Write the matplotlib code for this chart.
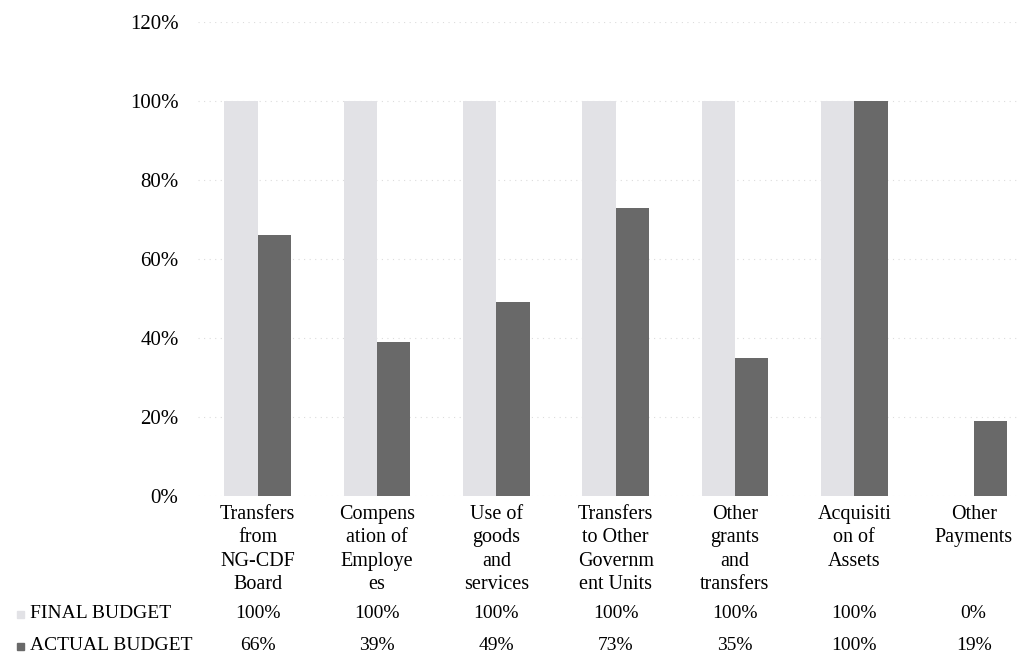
import matplotlib.pyplot as plt
import matplotlib.transforms as mtransforms
import numpy as np

categories = ["Transfers\nfrom\nNG-CDF\nBoard", "Compens\nation of\nEmploye\nes",
              "Use of\ngoods\nand\nservices", "Transfers\nto Other\nGovernm\nent Units",
              "Other\ngrants\nand\ntransfers", "Acquisiti\non of\nAssets", "Other\nPayments"]
final_budget = [100, 100, 100, 100, 100, 100, 0]
actual_budget = [66, 39, 49, 73, 35, 100, 19]
series_names = ["FINAL BUDGET", "ACTUAL BUDGET"]

plt.rcParams['font.family'] = ['Liberation Serif', 'DejaVu Serif']

fig = plt.figure(figsize=(10.19, 6.56), dpi=100)
ax = fig.add_axes([198 / 1019, 1 - 496 / 656, (1019 - 198) / 1019, (496 - 22) / 656])

x = np.arange(len(categories))
w = 0.28
light = '#e2e2e6'
dark = '#696969'
ax.bar(x - w / 2, final_budget, width=w, color=light, zorder=2)
ax.bar(x + w / 2, actual_budget, width=w, color=dark, zorder=2)

ax.set_ylim(0, 120)
ax.set_xlim(-0.5, 6.38)
ax.set_yticks(range(0, 121, 20))
ax.set_yticklabels([f"{v}%" for v in range(0, 121, 20)], fontsize=15)
ax.tick_params(axis='y', length=0, pad=14)
ax.set_xticks([])
ax.grid(axis='y', color='#dcdcdc', linestyle=(0, (1, 4)), linewidth=0.8, zorder=0)
for s in ax.spines.values():
    s.set_visible(False)

# category labels and data table under the plot
trans = mtransforms.blended_transform_factory(ax.transData, fig.transFigure)
for i, lab in enumerate(categories):
    ax.text(i, 1 - 505 / 656, lab, transform=trans, ha='center', va='top',
            fontsize=14.5, linespacing=1.32)
    ax.text(i, 1 - 614 / 656, f"{final_budget[i]}%", transform=trans,
            ha='center', va='center', fontsize=14)
    ax.text(i, 1 - 646 / 656, f"{actual_budget[i]}%", transform=trans,
            ha='center', va='center', fontsize=14)

fig.text(30 / 1019, 1 - 614 / 656, series_names[0], ha='left', va='center', fontsize=14)
fig.text(30 / 1019, 1 - 646 / 656, series_names[1], ha='left', va='center', fontsize=14)
fig.patches.append(plt.Rectangle((17 / 1019, 1 - 618 / 656), 7 / 1019, 7 / 656,
                                 transform=fig.transFigure, color=light))
fig.patches.append(plt.Rectangle((17 / 1019, 1 - 650 / 656), 7 / 1019, 7 / 656,
                                 transform=fig.transFigure, color=dark))

fig.savefig('out.png', dpi=100)
